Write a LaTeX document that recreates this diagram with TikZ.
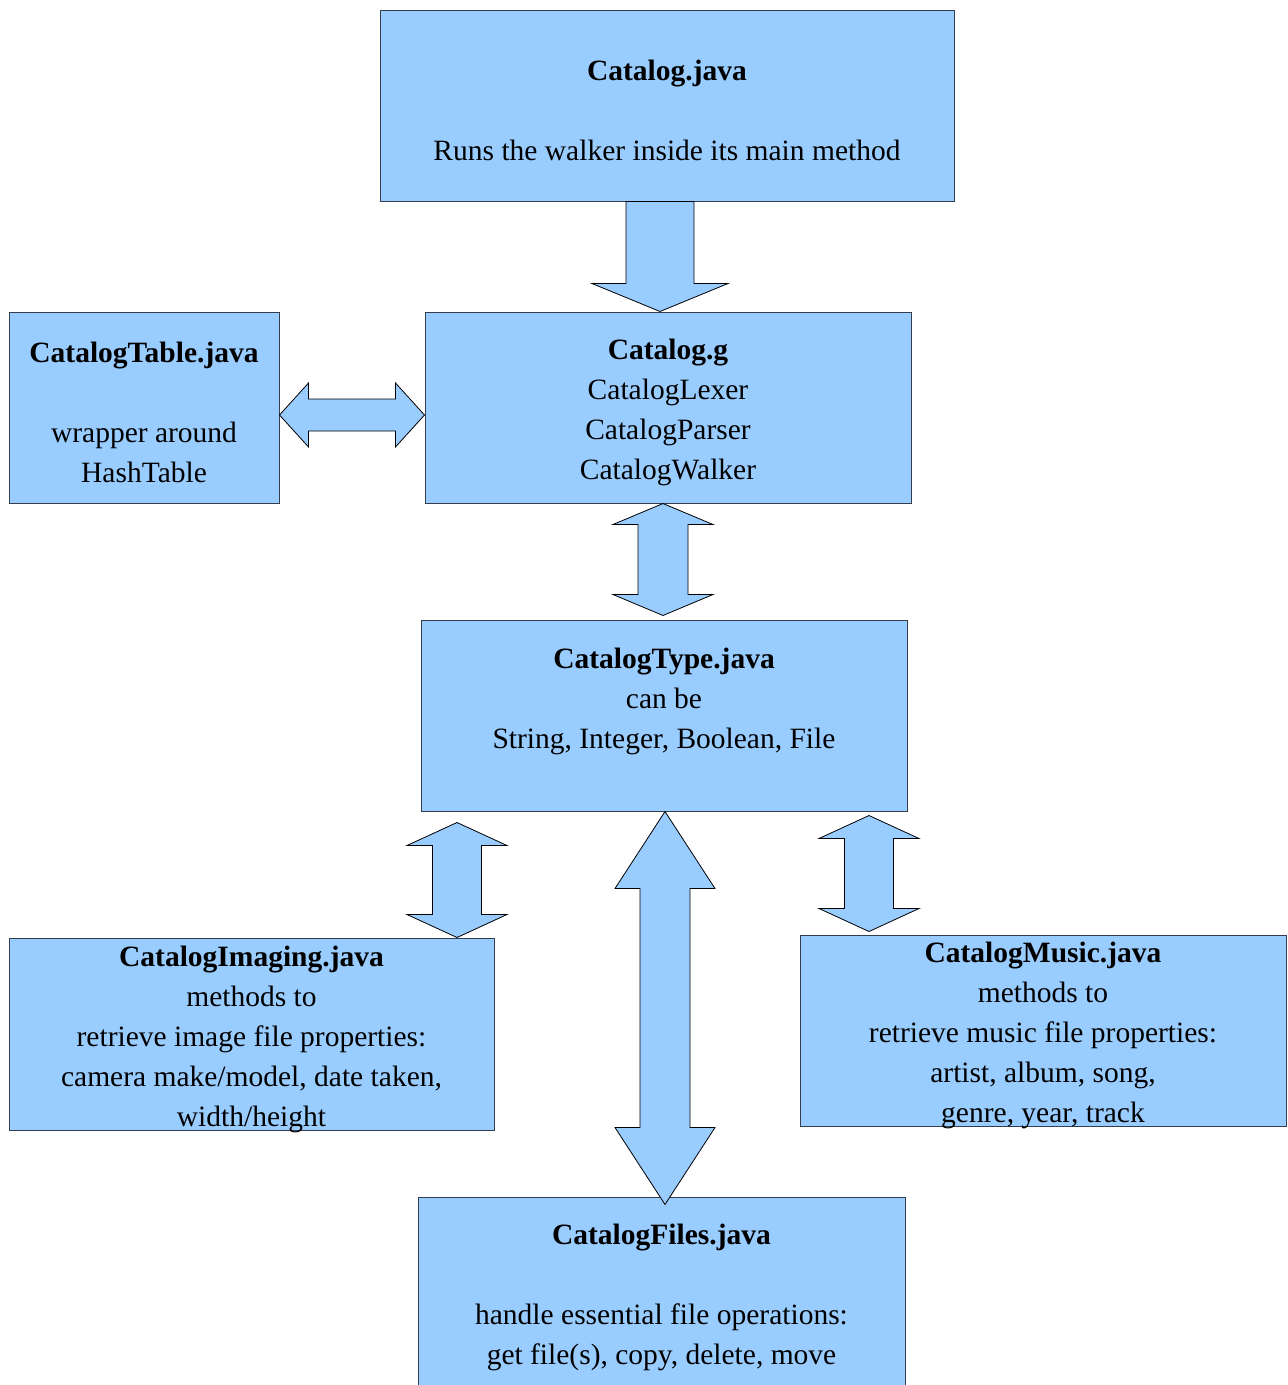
\documentclass[tikz,border=0pt]{standalone}
\usepackage{fontspec}
\setmainfont{Liberation Serif}
\usepackage{xcolor}
\definecolor{boxBlue}{RGB}{153,204,255}
\definecolor{boxLine}{RGB}{52,62,78}
\usetikzlibrary{calc}
\tikzstyle{block} = [draw=boxLine, line width=1pt, fill=boxBlue, rectangle, align=center, inner xsep=0pt, inner ysep=-20pt, minimum height=191pt]
\tikzstyle{blockArrow} = [draw=black, line width=0.8pt, fill=boxBlue, line join=miter]

% bold first line of a block, with a little room above it
\newcommand{\fileTitle}[1]{\rule{0pt}{31pt}\textbf{#1}}
% vertical arrow, head at the bottom: x, top, bottom, shaft half width, head half width, head length
\newcommand{\vSingleArrow}[6]{%
  \draw [blockArrow] let \p1=(#2), \p2=(#3) in
    ({#1pt-#4pt},\y1) -- ({#1pt+#4pt},\y1) -- ({#1pt+#4pt},{\y2+#6pt}) -- ({#1pt+#5pt},{\y2+#6pt})
    -- (#1pt,\y2) -- ({#1pt-#5pt},{\y2+#6pt}) -- ({#1pt-#4pt},{\y2+#6pt}) -- cycle;}
% vertical arrow, heads at both ends
\newcommand{\vDoubleArrow}[6]{%
  \draw [blockArrow] let \p1=(#2), \p2=(#3) in
    (#1pt,\y1) -- ({#1pt+#5pt},{\y1-#6pt}) -- ({#1pt+#4pt},{\y1-#6pt})
    -- ({#1pt+#4pt},{\y2+#6pt}) -- ({#1pt+#5pt},{\y2+#6pt}) -- (#1pt,\y2)
    -- ({#1pt-#5pt},{\y2+#6pt}) -- ({#1pt-#4pt},{\y2+#6pt})
    -- ({#1pt-#4pt},{\y1-#6pt}) -- ({#1pt-#5pt},{\y1-#6pt}) -- cycle;}
% horizontal arrow, heads at both ends: y, left, right, ...
\newcommand{\hDoubleArrow}[6]{%
  \draw [blockArrow] let \p1=(#2), \p2=(#3) in
    (\x1,-#1pt) -- ({\x1+#6pt},{-#1pt+#5pt}) -- ({\x1+#6pt},{-#1pt+#4pt})
    -- ({\x2-#6pt},{-#1pt+#4pt}) -- ({\x2-#6pt},{-#1pt+#5pt}) -- (\x2,-#1pt)
    -- ({\x2-#6pt},{-#1pt-#5pt}) -- ({\x2-#6pt},{-#1pt-#4pt})
    -- ({\x1+#6pt},{-#1pt-#4pt}) -- ({\x1+#6pt},{-#1pt-#5pt}) -- cycle;}

\begin{document}
\begin{tikzpicture}[x=1pt, y=-1pt, font=\fontsize{29.5}{40}\selectfont]
        \useasboundingbox (0,0) rectangle (1288,1385);
        % We start by placing the blocks
        \node [block, minimum width=574pt] (catalog) at (667,105.5)
            {\fileTitle{Catalog.java}\\[40pt] Runs the walker inside its main method};
        \node [block, minimum width=486pt] (grammar) at (668,407.5)
            {\fileTitle{Catalog.g}\\ CatalogLexer\\ CatalogParser\\ CatalogWalker};
        \node [block, minimum width=270pt] (table) at (144,407.5)
            {\fileTitle{CatalogTable.java}\\[40pt] wrapper around\\ HashTable};
        \node [block, minimum width=486pt] (type) at (664,715.5)
            {\fileTitle{CatalogType.java}\\ can be\\ String, Integer, Boolean, File\\ \rule[-6pt]{0pt}{1pt}};
        \node [block, minimum width=485pt, minimum height=192pt] (imaging) at (251.5,1034)
            {\fileTitle{CatalogImaging.java}\\ methods to\\ retrieve image file properties:\\ camera make/model, date taken,\\ width/height};
        \node [block, minimum width=486pt] (music) at (1043,1030.5)
            {\fileTitle{CatalogMusic.java}\\ methods to\\ retrieve music file properties:\\ artist, album, song,\\ genre, year, track};
        \node [block, minimum width=487pt] (files) at (661.5,1292.5)
            {\fileTitle{CatalogFiles.java}\\[40pt] handle essential file operations:\\ get file(s), copy, delete, move};

        % Once the blocks are placed, the block arrows go between them
        \vSingleArrow{660}{catalog.south}{grammar.north}{34}{68}{28}
        \hDoubleArrow{415}{table.east}{grammar.west}{16}{32}{29}
        \vDoubleArrow{663}{grammar.south}{[yshift=4pt]type.north}{25}{50}{21}
        \vDoubleArrow{457}{[yshift=-11pt]type.south}{imaging.north}{24.5}{50}{23}
        \vDoubleArrow{665}{type.south}{[yshift=-8pt]files.north}{25}{50}{77}
        \vDoubleArrow{869}{[yshift=-4pt]type.south}{[yshift=3pt]music.north}{24.5}{50}{23}
    \end{tikzpicture}
\end{document}
